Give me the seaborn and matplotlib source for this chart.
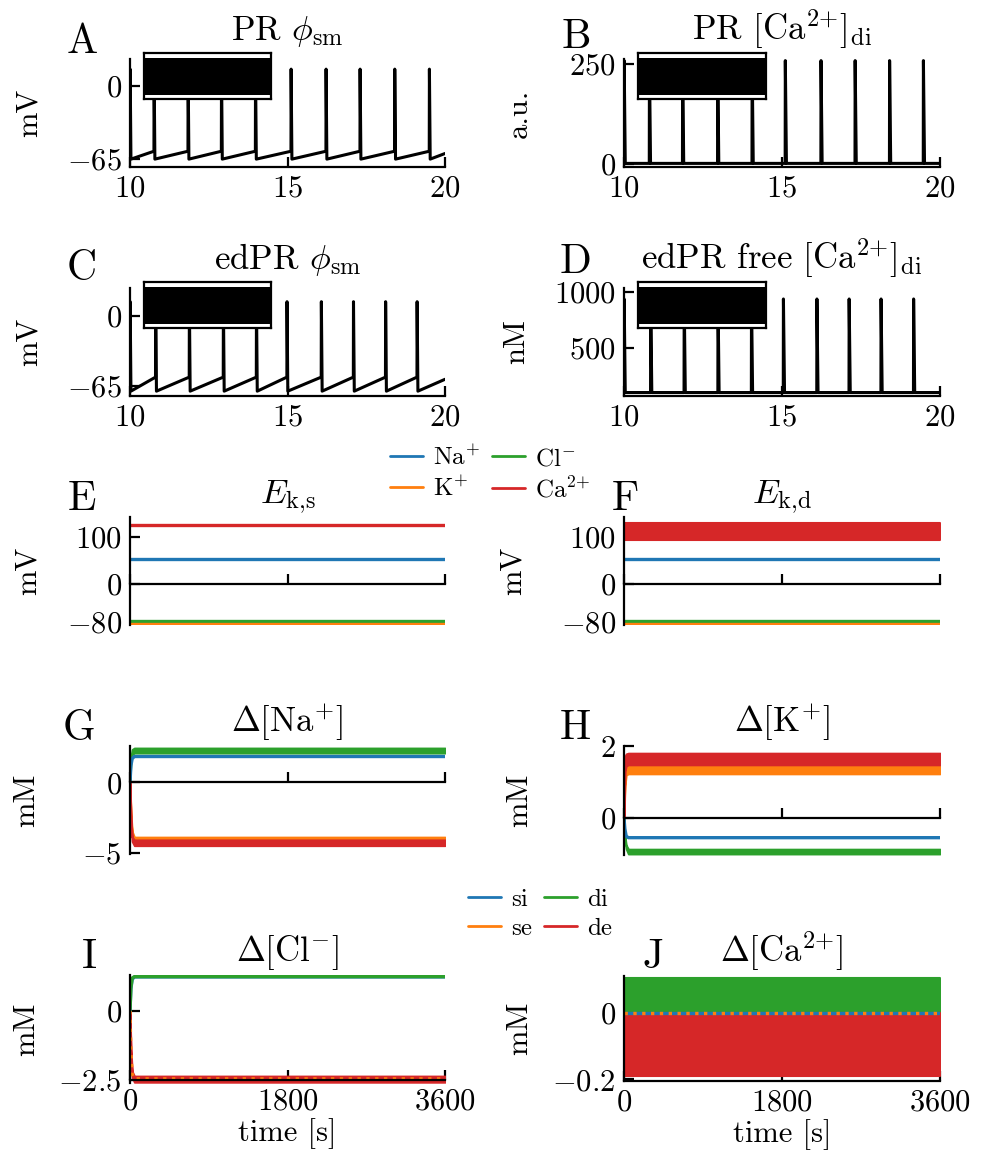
import numpy as np
import pandas as pd
import matplotlib
matplotlib.use("Agg")
import matplotlib.pyplot as plt
from matplotlib.lines import Line2D
import seaborn as sns

# ---- data ----
# spike times (s) in the 10-20 s window
spikes_A = [10.0, 10.76, 11.84, 12.90, 13.98, 15.11, 16.22, 17.30, 18.40, 19.50]
spikes_B = [10.0, 10.80, 11.85, 12.96, 14.05, 15.10, 16.23, 17.31, 18.40, 19.47]
spikes_C = [10.0, 10.81, 11.88, 12.96, 14.01, 14.98, 16.07, 17.09, 18.11, 19.11]
spikes_D = [10.0, 10.84, 11.90, 12.97, 14.03, 15.04, 16.10, 17.12, 18.13, 19.16]

# levels: start, trough, pre-spike, peak, end
lev_A = [-63, -65, -58, 15, -60]
lev_B = [2, 2, 2, 258, 2]
lev_C = [-64, -70, -57, 13, -59]
lev_D = [100, 100, 100, 935, 100]

# ion panels, time points (s)
t_ion = [0, 10, 25, 50, 100, 3600]

# E / F: reversal potentials (mV)
E_soma = {"Na": 53, "K": -84, "Cl": -78.5, "Ca": 124.5}
E_dend = {"Na": 53, "K": -84, "Cl": -78.5}
E_dend_Ca = (92, 129)

# G: delta Na (mM)
G_si = [0, 1.2, 1.7, 1.85, 1.85, 1.85]
G_se = ([0, -2.5, -3.8, -4.2, -4.2, -4.2], [0, -2.2, -3.5, -3.9, -3.9, -3.9])
G_di = ([0, 1.5, 2.0, 2.1, 2.1, 2.1], [0, 1.8, 2.35, 2.45, 2.45, 2.45])
G_de = ([0, -2.8, -4.2, -4.5, -4.5, -4.5], [0, -2.6, -3.9, -4.1, -4.1, -4.1])

# H: delta K (mM)
H_si = [0, -0.3, -0.5, -0.54, -0.54, -0.54]
H_se = ([0, 0.9, 1.2, 1.23, 1.23, 1.23], [0, 1.1, 1.4, 1.48, 1.48, 1.48])
H_di = ([0, -0.6, -0.85, -0.99, -0.99, -0.99], [0, -0.5, -0.75, -0.86, -0.86, -0.86])
H_de = ([0, 1.3, 1.45, 1.48, 1.48, 1.48], [0, 1.7, 1.78, 1.8, 1.8, 1.8])

# I: delta Cl (mM)
I_si = [0, 0.8, 1.15, 1.24, 1.24, 1.24]
I_se = [0, -1.5, -2.3, -2.47, -2.47, -2.47]
I_di = [0, 0.85, 1.2, 1.25, 1.25, 1.25]
I_de = ([0, -1.6, -2.4, -2.59, -2.59, -2.59], [0, -1.4, -2.2, -2.37, -2.37, -2.37])

# J: delta Ca (mM)
t_J = [0, 3600]
J_di = ([0, 0], [0.105, 0.105])
J_de = ([-0.189, -0.189], [0, 0])
J_si = [0, 0]
J_se = [0, 0]

C_si, C_se, C_di, C_de = "#1f77b4", "#ff7f0e", "#2ca02c", "#d62728"

sns.set_theme(style="ticks")
plt.rcParams["font.family"] = ["cmr10", "DejaVu Serif"]
plt.rcParams["mathtext.fontset"] = "cm"
plt.rcParams["axes.unicode_minus"] = False
plt.rcParams["axes.linewidth"] = 1.6
plt.rcParams["axes.edgecolor"] = "black"
plt.rcParams["text.color"] = "black"
plt.rcParams["axes.labelcolor"] = "black"
plt.rcParams["xtick.color"] = "black"
plt.rcParams["ytick.color"] = "black"

W, H = 986, 1162
fig = plt.figure(figsize=(W / 100, H / 100), dpi=100)

tick_fs = 22
title_fs = 25
lab_fs = 22


def add_ax(left, top, width, height=108):
    return fig.add_axes([left / W, 1 - (top + height) / H, width / W, height / H])


def spike_trace(spikes, lev, cal):
    start, trough, pre, peak, end = lev
    t, v = [10.0], [start]
    for s in spikes:
        if s > 10.0:
            t.append(s)
            v.append(pre)
        t += [s + 0.005, s + (0.04 if cal else 0.03)]
        v += [peak, trough]
    t.append(20.0)
    v.append(end)
    return pd.DataFrame({"t": t, "v": v})


def style(ax):
    sns.despine(ax=ax)
    ax.tick_params(direction="in", length=7, width=1.6, colors="black",
                   labelsize=tick_fs, pad=6)
    ax.set_facecolor("white")


panels = [
    ("A", "PR $\\phi_{\\mathrm{sm}}$", spikes_A, lev_A, False, (130, 59, 315), (-72, 24), [-65, 0], "mV"),
    ("B", "PR $[\\mathrm{Ca}^{2{+}}]_{\\mathrm{di}}$", spikes_B, lev_B, True, (624, 59, 316), (-7, 262), [0, 250], "a.u."),
    ("C", "edPR $\\phi_{\\mathrm{sm}}$", spikes_C, lev_C, False, (130, 288, 315), (-74.5, 25.7), [-65, 0], "mV"),
    ("D", "edPR free $[\\mathrm{Ca}^{2{+}}]_{\\mathrm{di}}$", spikes_D, lev_D, True, (624, 288, 316), (69, 1033), [500, 1000], "nM"),
]
label_x = {"A": 43, "B": 533, "C": 43, "D": 530}

for name, title, spikes, lev, cal, (l, tp, w), ylim, yt, ylab in panels:
    ax = add_ax(l, tp, w)
    df = spike_trace(spikes, lev, cal)
    sns.lineplot(data=df, x="t", y="v", ax=ax, sort=False, estimator=None,
                 color="black", lw=2.2)
    ax.set_xlim(10, 20)
    ax.set_ylim(*ylim)
    ax.set_xticks([10, 15, 20], ["$10$", "$15$", "$20$"])
    ax.set_yticks(yt, [f"${v}$" for v in yt])
    ax.set_xlabel("")
    ax.set_ylabel(ylab, fontsize=lab_fs)
    ax.yaxis.set_label_coords((label_x[name] - l) / w, 0.5)
    ax.set_title(title, fontsize=title_fs, pad=14)
    style(ax)
    # inset: the whole run, spikes merge into a solid block
    ins = ax.inset_axes([0.044, 0.632, 0.405, 0.423])
    lo, hi = min(lev), lev[3]
    ins.fill_between([0, 3600], [lo, lo], [hi, hi], color="black", lw=0)
    rng = hi - lo
    ins.set_xlim(0, 3600)
    ins.set_ylim(lo - 0.1 * rng, hi + 0.12 * rng)
    ins.set_xticks([])
    ins.set_yticks([])
    ins.set_facecolor("white")
    for sp in ins.spines.values():
        sp.set_visible(True)
        sp.set_linewidth(1.6)
        sp.set_color("black")


def ion_axes(l, tp, w, ylim, yt, ylabs, zero=True, bottom=False, h=108):
    ax = add_ax(l, tp, w, h)
    ax.set_xlim(0, 3600)
    ax.set_ylim(*ylim)
    ax.set_yticks(yt, ylabs)
    if bottom:
        ax.set_xticks([0, 1800, 3600], ["$0$", "$1800$", "$3600$"])
        ax.set_xlabel("time [s]", fontsize=lab_fs, labelpad=2)
    else:
        ax.set_xticks([0, 1800, 3600], ["", "", ""])
        ax.set_xlabel("")
    style(ax)
    if zero:
        ax.spines["bottom"].set_position(("data", 0))
    return ax


def line(ax, t, y, c, **kw):
    sns.lineplot(x=t, y=y, ax=ax, color=c, lw=2.4, sort=False, estimator=None, **kw)


def band(ax, t, lohi, c):
    ax.fill_between(t, lohi[0], lohi[1], color=c, lw=1.5, edgecolor=c)


def ylab(ax, text, x_px, l, w):
    ax.set_ylabel(text, fontsize=lab_fs)
    ax.yaxis.set_label_coords((x_px - l) / w, 0.5)


# E
ax = ion_axes(130, 517, 315, (-86, 141), [-80, 0, 100], ["$-80$", "$0$", "$100$"])
for ion, c in [("Na", C_si), ("Cl", C_di), ("K", C_se), ("Ca", C_de)]:
    line(ax, [0, 3600], [E_soma[ion]] * 2, c)
ax.set_title("$E_{\\mathrm{k{,}s}}$", fontsize=title_fs, pad=10)
ylab(ax, "mV", 42, 130, 315)

# F
ax = ion_axes(624, 517, 316, (-86, 141), [-80, 0, 100], ["$-80$", "$0$", "$100$"])
for ion, c in [("Na", C_si), ("Cl", C_di), ("K", C_se)]:
    line(ax, [0, 3600], [E_dend[ion]] * 2, c)
band(ax, [0, 3600], ([E_dend_Ca[0]] * 2, [E_dend_Ca[1]] * 2), C_de)
ax.set_title("$E_{\\mathrm{k{,}d}}$", fontsize=title_fs, pad=10)
ylab(ax, "mV", 527, 624, 316)

# G
ax = ion_axes(130, 746, 315, (-5.1, 2.6), [-5, 0], ["$-5$", "$0$"])
line(ax, t_ion, G_si, C_si)
band(ax, t_ion, G_se, C_se)
band(ax, t_ion, G_di, C_di)
band(ax, t_ion, G_de, C_de)
ax.set_title("$\\Delta[\\mathrm{Na}^{+}]$", fontsize=title_fs, pad=10)
ylab(ax, "mM", 40, 130, 315)

# H
ax = ion_axes(624, 746, 316, (-1.02, 2.0), [0, 2], ["$0$", "$2$"], h=109)
line(ax, t_ion, H_si, C_si)
band(ax, t_ion, H_se, C_se)
band(ax, t_ion, H_di, C_di)
band(ax, t_ion, H_de, C_de)
ax.set_title("$\\Delta[\\mathrm{K}^{+}]$", fontsize=title_fs, pad=10)
ylab(ax, "mM", 533, 624, 316)

# I
ax = ion_axes(130, 975, 315, (-2.62, 1.31), [-2.5, 0], ["$-2.5$", "$0$"], zero=False, bottom=True)
line(ax, t_ion, I_si, C_si)
line(ax, t_ion, I_di, C_di)
band(ax, t_ion, I_de, C_de)
line(ax, t_ion, I_se, C_se, linestyle=":")
ax.spines["bottom"].set_position(("data", -2.5))
ax.set_title("$\\Delta[\\mathrm{Cl}^{-}]$", fontsize=title_fs, pad=10)
ylab(ax, "mM", 40, 130, 315)

# J
ax = ion_axes(624, 976, 316, (-0.205, 0.112), [-0.2, 0], ["$-0.2$", "$0$"], zero=False, bottom=True, h=105)
band(ax, t_J, J_di, C_di)
band(ax, t_J, J_de, C_de)
line(ax, t_J, J_si, C_si)
line(ax, t_J, J_se, C_se, linestyle=":")
ax.set_title("$\\Delta[\\mathrm{Ca}^{2{+}}]$", fontsize=title_fs, pad=10)
ylab(ax, "mM", 533, 624, 316)

# legends
ion_handles = [Line2D([], [], color=c, lw=2) for c in (C_si, C_se, C_di, C_de)]
leg_kw = dict(loc="center", ncol=2, frameon=False, fontsize=18, handlelength=1.3,
              columnspacing=0.5, handletextpad=0.4, labelspacing=0.25)
fig.legend(ion_handles, ["$\\mathrm{Na}^{+}$", "$\\mathrm{K}^{+}$", "$\\mathrm{Cl}^{-}$", "$\\mathrm{Ca}^{2{+}}$"],
           bbox_to_anchor=(490 / W, 1 - 474 / H), **leg_kw)
fig.legend(ion_handles, ["si", "se", "di", "de"],
           bbox_to_anchor=(540 / W, 1 - 914 / H), **leg_kw)

# panel letters
letters = {"A": (67, 53), "B": (562, 48), "C": (67, 280), "D": (560, 273),
           "E": (68, 510), "F": (612, 510), "G": (63, 740), "H": (560, 739),
           "I": (82, 968), "J": (643, 968)}
for k, (x, y) in letters.items():
    fig.text(x / W, 1 - y / H, k, fontsize=30, va="baseline", ha="left")

fig.savefig("out.png", dpi=100, facecolor="white")
